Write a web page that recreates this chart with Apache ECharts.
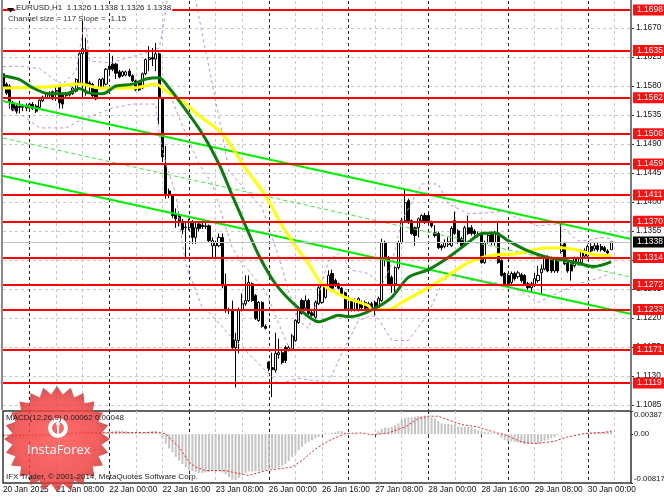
<!DOCTYPE html>
<html><head><meta charset="utf-8">
<style>html,body{margin:0;padding:0;background:#fff}#c{width:664px;height:498px}</style>
<script src="https://cdn.jsdelivr.net/npm/echarts@6/dist/echarts.min.js"></script>
</head><body><div id="c"></div>
<script>
const barSlots = 190;
const timeLabels = ['20 Jan 2015','21 Jan 08:00','22 Jan 00:00','22 Jan 16:00','23 Jan 08:00','26 Jan 00:00','26 Jan 16:00','27 Jan 08:00','28 Jan 00:00','28 Jan 16:00','29 Jan 08:00','30 Jan 00:00'];
const levels = [1.1698,1.1635,1.1562,1.1506,1.1459,1.1411,1.1370,1.1314,1.1272,1.1233,1.1171,1.1119];
const currentPrice = 1.1338;
const priceTicks = [1.1085,1.1130,1.1175,1.1220,1.1265,1.1310,1.1355,1.1400,1.1445,1.1490,1.1535,1.1580,1.1625,1.1670];
const macdTicks = [-0.00817,0,0.00387];
// open, close, low, high
const candles = [
[1.1599,1.1577,1.1572,1.1602],[1.1583,1.1569,1.1566,1.1586],[1.1580,1.1555,1.1545,1.1583],[1.1554,1.1543,1.1541,1.1557],
[1.1549,1.1541,1.1537,1.1552],[1.1548,1.1547,1.1538,1.1557],[1.1547,1.1548,1.1541,1.1552],[1.1546,1.1549,1.1541,1.1553],
[1.1546,1.1552,1.1545,1.1554],[1.1552,1.1545,1.1543,1.1555],[1.1549,1.1541,1.1538,1.1552],[1.1547,1.1558,1.1545,1.1559],
[1.1557,1.1563,1.1555,1.1565],[1.1562,1.1568,1.1560,1.1570],[1.1566,1.1567,1.1562,1.1572],[1.1571,1.1560,1.1558,1.1573],
[1.1572,1.1573,1.1557,1.1580],[1.1580,1.1554,1.1545,1.1582],[1.1568,1.1552,1.1545,1.1570],[1.1565,1.1568,1.1563,1.1571],
[1.1566,1.1569,1.1564,1.1572],[1.1568,1.1577,1.1566,1.1579],[1.1572,1.1590,1.1570,1.1592],[1.1585,1.1630,1.1583,1.1634],
[1.1630,1.1638,1.1562,1.1681],[1.1636,1.1583,1.1565,1.1655],[1.1585,1.1580,1.1568,1.1588],[1.1583,1.1565,1.1563,1.1585],
[1.1576,1.1560,1.1558,1.1578],[1.1576,1.1590,1.1575,1.1592],[1.1577,1.1591,1.1575,1.1593],[1.1583,1.1606,1.1581,1.1608],
[1.1611,1.1606,1.1596,1.1631],[1.1614,1.1606,1.1603,1.1627],[1.1614,1.1600,1.1591,1.1616],[1.1602,1.1594,1.1592,1.1605],
[1.1596,1.1602,1.1594,1.1604],[1.1597,1.1602,1.1595,1.1604],[1.1603,1.1596,1.1594,1.1607],[1.1596,1.1588,1.1586,1.1598],
[1.1588,1.1574,1.1572,1.1590],[1.1585,1.1574,1.1572,1.1587],[1.1577,1.1599,1.1575,1.1601],[1.1599,1.1621,1.1597,1.1623],
[1.1621,1.1624,1.1603,1.1642],[1.1624,1.1622,1.1611,1.1639],[1.1622,1.1630,1.1603,1.1647],[1.1630,1.1562,1.1521,1.1632],
[1.1560,1.1470,1.1462,1.1562],[1.1459,1.1413,1.1405,1.1487],[1.1417,1.1410,1.1406,1.1421],[1.1410,1.1379,1.1375,1.1412],
[1.1382,1.1374,1.1360,1.1390],[1.1379,1.1368,1.1362,1.1386],[1.1368,1.1357,1.1350,1.1374],[1.1360,1.1361,1.1314,1.1368],
[1.1360,1.1368,1.1356,1.1374],[1.1368,1.1345,1.1335,1.1372],[1.1345,1.1360,1.1335,1.1368],[1.1366,1.1359,1.1354,1.1370],
[1.1364,1.1362,1.1358,1.1368],[1.1362,1.1363,1.1358,1.1367],[1.1363,1.1340,1.1338,1.1365],[1.1332,1.1340,1.1314,1.1345],
[1.1332,1.1337,1.1314,1.1340],[1.1332,1.1345,1.1330,1.1351],[1.1345,1.1270,1.1266,1.1351],[1.1270,1.1232,1.1228,1.1289],
[1.1232,1.1231,1.1226,1.1236],[1.1232,1.1174,1.1172,1.1247],[1.1174,1.1185,1.1112,1.1197],[1.1185,1.1233,1.1165,1.1236],
[1.1233,1.1242,1.1230,1.1258],[1.1242,1.1247,1.1239,1.1286],[1.1247,1.1275,1.1245,1.1286],[1.1273,1.1247,1.1245,1.1275],
[1.1255,1.1219,1.1217,1.1257],[1.1216,1.1244,1.1214,1.1246],[1.1244,1.1207,1.1205,1.1246],[1.1207,1.1204,1.1202,1.1210],
[1.1151,1.1142,1.1137,1.1153],[1.1143,1.1140,1.1097,1.1166],[1.1139,1.1165,1.1135,1.1197],[1.1163,1.1166,1.1157,1.1188],
[1.1166,1.1151,1.1148,1.1170],[1.1174,1.1154,1.1150,1.1177],[1.1171,1.1174,1.1168,1.1177],[1.1172,1.1192,1.1170,1.1195],
[1.1185,1.1216,1.1183,1.1218],[1.1213,1.1235,1.1211,1.1238],[1.1247,1.1227,1.1225,1.1250],[1.1235,1.1247,1.1232,1.1255],
[1.1247,1.1227,1.1225,1.1250],[1.1228,1.1224,1.1222,1.1233],[1.1221,1.1244,1.1219,1.1247],[1.1242,1.1267,1.1240,1.1270],
[1.1244,1.1270,1.1242,1.1272],[1.1252,1.1270,1.1250,1.1273],[1.1267,1.1286,1.1265,1.1294],[1.1289,1.1266,1.1260,1.1295],
[1.1278,1.1270,1.1268,1.1281],[1.1273,1.1266,1.1264,1.1275],[1.1266,1.1258,1.1256,1.1268],[1.1259,1.1235,1.1233,1.1261],
[1.1233,1.1234,1.1228,1.1247],[1.1247,1.1232,1.1230,1.1250],[1.1232,1.1247,1.1230,1.1250],[1.1232,1.1250,1.1230,1.1252],
[1.1244,1.1236,1.1232,1.1247],[1.1244,1.1235,1.1231,1.1247],[1.1242,1.1235,1.1232,1.1245],[1.1242,1.1235,1.1232,1.1245],
[1.1244,1.1236,1.1224,1.1247],[1.1236,1.1250,1.1233,1.1253],[1.1247,1.1337,1.1245,1.1343],[1.1337,1.1309,1.1300,1.1340],
[1.1314,1.1273,1.1271,1.1316],[1.1283,1.1270,1.1259,1.1286],[1.1273,1.1298,1.1260,1.1300],[1.1298,1.1337,1.1295,1.1340],
[1.1337,1.1371,1.1335,1.1375],[1.1371,1.1399,1.1369,1.1421],[1.1402,1.1368,1.1366,1.1405],[1.1371,1.1351,1.1349,1.1373],
[1.1360,1.1348,1.1332,1.1362],[1.1360,1.1374,1.1345,1.1376],[1.1371,1.1379,1.1369,1.1381],[1.1379,1.1368,1.1366,1.1383],
[1.1379,1.1368,1.1365,1.1383],[1.1368,1.1363,1.1360,1.1371],[1.1352,1.1348,1.1345,1.1364],[1.1351,1.1329,1.1327,1.1354],
[1.1332,1.1329,1.1325,1.1335],[1.1331,1.1337,1.1328,1.1342],[1.1334,1.1338,1.1330,1.1345],[1.1332,1.1359,1.1330,1.1362],
[1.1371,1.1351,1.1349,1.1385],[1.1355,1.1337,1.1335,1.1358],[1.1343,1.1332,1.1330,1.1346],[1.1335,1.1360,1.1332,1.1363],
[1.1360,1.1351,1.1349,1.1379],[1.1360,1.1351,1.1348,1.1364],[1.1355,1.1351,1.1348,1.1358],[1.1351,1.1348,1.1345,1.1354],
[1.1351,1.1306,1.1304,1.1354],[1.1306,1.1337,1.1304,1.1340],[1.1337,1.1348,1.1335,1.1351],[1.1351,1.1337,1.1333,1.1354],
[1.1337,1.1352,1.1332,1.1355],[1.1352,1.1306,1.1304,1.1368],[1.1309,1.1286,1.1284,1.1311],[1.1289,1.1273,1.1269,1.1291],
[1.1286,1.1273,1.1269,1.1289],[1.1275,1.1289,1.1270,1.1292],[1.1289,1.1281,1.1278,1.1292],[1.1284,1.1290,1.1281,1.1293],
[1.1287,1.1278,1.1275,1.1290],[1.1286,1.1273,1.1270,1.1288],[1.1273,1.1267,1.1264,1.1276],[1.1267,1.1273,1.1259,1.1276],
[1.1270,1.1281,1.1268,1.1290],[1.1278,1.1286,1.1275,1.1301],[1.1290,1.1296,1.1258,1.1303],[1.1296,1.1314,1.1294,1.1316],
[1.1314,1.1293,1.1291,1.1317],[1.1312,1.1293,1.1290,1.1315],[1.1293,1.1312,1.1290,1.1315],[1.1312,1.1293,1.1290,1.1315],
[1.1323,1.1333,1.1320,1.1366],[1.1335,1.1304,1.1302,1.1338],[1.1306,1.1293,1.1290,1.1309],[1.1306,1.1293,1.1278,1.1308],
[1.1301,1.1312,1.1298,1.1315],[1.1306,1.1312,1.1303,1.1315],[1.1306,1.1324,1.1304,1.1327],[1.1316,1.1324,1.1314,1.1328],
[1.1316,1.1331,1.1313,1.1334],[1.1331,1.1324,1.1321,1.1336],[1.1327,1.1332,1.1324,1.1337],[1.1332,1.1326,1.1323,1.1337],
[1.1331,1.1326,1.1323,1.1335],[1.1329,1.1324,1.1322,1.1332],[1.1324,1.1321,1.1319,1.1327],[1.1326,1.1338,1.1326,1.1338]
];
const maSlow = [[0,1.1577],[14,1.1579],[23,1.1583],[29,1.1577],[39,1.1577],[46,1.1583],[49,1.1572],[54,1.1557],[59,1.1534],[66,1.1506],[73,1.1452],[79,1.1410],[84,1.1363],[88,1.1332],[92,1.1304],[96,1.1273],[103,1.1252],[110,1.1239],[111,1.1233],[116,1.1233],[120,1.1244],[128,1.1267],[134,1.1286],[140,1.1306],[147,1.1317],[155,1.1320],[162,1.1328],[168,1.1329],[174,1.1324],[178,1.1318],[183,1.1317]];
const maFast = [[0,1.1596],[5,1.1590],[9,1.1577],[14,1.1568],[19,1.1568],[23,1.1576],[26,1.1569],[30,1.1568],[34,1.1580],[39,1.1583],[43,1.1591],[47,1.1593],[50,1.1577],[53,1.1557],[60,1.1506],[65,1.1459],[69,1.1410],[73,1.1363],[77,1.1317],[82,1.1273],[89,1.1235],[95,1.1214],[98,1.1219],[101,1.1224],[104,1.1222],[107,1.1224],[112,1.1235],[117,1.1252],[122,1.1283],[128,1.1295],[134,1.1314],[140,1.1337],[144,1.1351],[148,1.1352],[152,1.1340],[158,1.1324],[164,1.1314],[170,1.1309],[176,1.1301],[178,1.1300],[183,1.1307]];
const bandUpper = [[0,1.1610],[5,1.1611],[11,1.1607],[16,1.1588],[18,1.1583],[22,1.1603],[24,1.1665],[25,1.1673],[26,1.1619],[32,1.1616],[42,1.1630],[47,1.1639],[48,1.1665],[49,1.1700],[51,1.1759],[56,1.1759],[58,1.1712],[64,1.1557],[66,1.1506],[68,1.1448],[74,1.1413],[78,1.1391],[83,1.1314],[86,1.1262],[89,1.1216],[92,1.1204],[98,1.1309],[101,1.1320],[105,1.1294],[110,1.1289],[114,1.1270],[117,1.1304],[120,1.1371],[126,1.1428],[131,1.1428],[134,1.1397],[140,1.1382],[146,1.1383],[151,1.1386],[155,1.1374],[161,1.1363],[167,1.1366],[173,1.1340],[176,1.1340],[180,1.1345],[183,1.1343]];
const bandMiddle = [[51,1.1557],[55,1.1506],[59,1.1459],[63,1.1428],[69,1.1329],[72,1.1304],[74,1.1293],[79,1.1262],[83,1.1211],[86,1.1174],[89,1.1170]];
const bandLower = [[0,1.1557],[4,1.1541],[11,1.1515],[19,1.1515],[23,1.1526],[33,1.1546],[39,1.1552],[46,1.1552],[47,1.1506],[49,1.1459],[52,1.1413],[54,1.1335],[55,1.1304],[56,1.1289],[60,1.1236],[63,1.1224],[67,1.1200],[77,1.1149],[83,1.1118],[89,1.1126],[98,1.1120],[102,1.1165],[107,1.1216],[111,1.1224],[113,1.1219],[117,1.1185],[122,1.1185],[128,1.1227],[132,1.1273],[135,1.1289],[141,1.1278],[148,1.1275],[152,1.1270],[157,1.1258],[161,1.1244],[167,1.1259],[173,1.1273],[180,1.1283],[183,1.1290]];
const channelUpper = [[0,1.15567],[189,1.13425]];
const channelMiddle = [[0,1.14993],[189,1.12835]];
const channelLower = [[0,1.14403],[189,1.12261]];
const macdHist = [
0,-.0002,-.0003,-.0005,-.0006,-.0007,-.0008,-.0008,-.0008,-.0007,-.0007,-.0006,-.0006,-.0005,-.0004,-.0004,-.0003,-.0002,-.0002,-.0002,-.0001,-.0001,0,.0002,.0004,.0005,.0005,.0004,.0003,.0003,.0003,.0004,.0005,.0005,.0006,.0006,.0006,.0005,.0004,.0003,.0003,.0002,.0002,.0003,.0004,.0005,.0005,.0002,
-.0008,-.0016,-.0024,-.0030,-.0038,-.0044,-.0050,-.0055,-.0060,-.0062,-.0064,-.0065,-.0065,-.0064,-.0063,-.0062,-.0062,-.0062,-.0064,-.0067,-.0072,-.0076,-.0077,-.0073,-.0068,-.0065,-.0062,-.0062,-.0062,-.0062,-.0061,-.0060,-.0059,-.0058,-.0057,-.0055,-.0053,-.0050,-.0045,-.0038,-.0033,-.0027,-.0021,-.0016,-.0013,-.0010,-.0007,-.0005,-.0002,.0002,
.0001,.0002,.0003,.0005,.0005,.0003,.0001,0,-.0001,0,0,0,0,0,0,.0005,.0009,.0011,.0011,.0012,.0015,.0018,.0024,.0027,.0028,.0028,.0029,.0030,.0030,.0031,.0030,.0028,.0026,.0022,.0018,.0017,.0017,.0016,.0016,.0013,.0012,.0012,.0012,.0011,.0009,.0006,.0005,.0004,.0003,.0002,.0001,-.0002,-.0006,-.0010,-.0012,-.0012,-.0013,-.0014,-.0015,-.0017,-.0017,-.0016,-.0016,-.0016,-.0014,-.0011,-.0009,-.0007,-.0005,-.0002,0,.0001,0,0,-.0001,0,0,.0001,.0002,.0003,.0003,.0003,.0003,.0004,.0004,.0006
];
const macdSignal = [[0,-.0002],[7,-.0002],[23,.0002],[47,.0003],[49,.00005],[53,-.0022],[56,-.0047],[58,-.0055],[61,-.0061],[67,-.0061],[71,-.0066],[74,-.0069],[79,-.0061],[87,-.0055],[90,-.0044],[94,-.0025],[98,-.0011],[103,.0001],[108,.0002],[111,-.0001],[116,.0002],[121,.0012],[125,.0026],[128,.0030],[131,.0030],[138,.0016],[143,.0012],[148,.0003],[151,-.0001],[156,-.0013],[160,-.0016],[163,-.0014],[166,-.0012],[169,-.0006],[175,.0001],[181,.0003],[183,.00048]];

const font = '"Liberation Sans", sans-serif';
const categories = Array.from({length: barSlots}, (_, i) => 'b' + i);
const isLight = i => i % 8 === 0 && i % 24 !== 8 && i !== 0;
const isDark = i => i % 24 === 8;
const xBase = (gridIndex, test, color, extra) => Object.assign({
  type: 'category', gridIndex, data: categories, boundaryGap: false, position: 'bottom',
  axisLine: {show: false}, axisTick: {show: false}, axisLabel: {show: false},
  splitLine: {show: true, interval: i => test(i), lineStyle: {color, type: [3, 3], width: 1}}
}, extra || {});
const lineS = (name, data, color, width, type, smooth) => ({
  name, type: 'line', data, xAxisIndex: 0, yAxisIndex: 0, showSymbol: false, symbol: 'none', silent: true, smooth: smooth || false,
  lineStyle: {color, width, type: type || 'solid'}, z: 3, animation: false
});
const tag = (value, bg, lineColor, lineWidth) => ({
  yAxis: value,
  lineStyle: {color: lineColor, width: lineWidth, type: 'solid'},
  label: {show: true, position: 'end', distance: 2, formatter: value.toFixed(4), color: '#fff', backgroundColor: bg,
    padding: [1, 4, 1, 4], fontFamily: font, fontSize: 8.5, fontWeight: 'normal', lineHeight: 9}
});

const chart = echarts.init(document.getElementById('c'), null, {renderer: 'canvas'});
// decorative star badge
const starPts = [];
for (let k = 0; k < 48; k++) {
  const r = k % 2 ? 45 : 53, a = k / 48 * Math.PI * 2 - Math.PI / 2;
  starPts.push([r * Math.cos(a), r * Math.sin(a)]);
}
chart.setOption({
  animation: false,
  backgroundColor: '#fff',
  textStyle: {fontFamily: font},
  grid: [
    {left: 3, right: 33, top: 1, height: 409, show: true, backgroundColor: '#fff', borderWidth: 0, outerBoundsMode: 'none', containLabel: false},
    {left: 3, right: 33, top: 411, height: 72, show: true, backgroundColor: '#fff', borderColor: '#333', borderWidth: 1.5, outerBoundsMode: 'none', containLabel: false}
  ],
  xAxis: [
    xBase(0, isLight, '#c9c9c9'),
    xBase(0, isDark, '#222'),
    xBase(1, isLight, '#c9c9c9', {
      axisTick: {show: true, length: 3, interval: i => i % 16 === 0, lineStyle: {color: '#333'}},
      axisLabel: {show: true, interval: i => i % 16 === 0, align: 'left', margin: 3, fontSize: 8.3, fontFamily: font, color: '#111',
        hideOverlap: false, showMinLabel: true, showMaxLabel: true,
        formatter: (v, i) => timeLabels[i / 16] || ''}
    }),
    xBase(1, isDark, '#222')
  ],
  yAxis: [
    {type: 'value', gridIndex: 0, position: 'right', min: 1.10771, max: 1.17120, scale: true,
      axisLine: {show: false},
      axisTick: {show: true, length: 3, customValues: priceTicks, lineStyle: {color: '#333'}},
      axisLabel: {show: true, customValues: priceTicks, margin: 5, fontSize: 8.3, fontFamily: font, color: '#111', formatter: v => v.toFixed(4), showMinLabel: true, showMaxLabel: true},
      splitLine: {show: true, lineStyle: {color: '#c9c9c9', type: [3, 3], width: 1}}},
    {type: 'value', gridIndex: 1, position: 'right', min: -0.00817, max: 0.00387, scale: true,
      axisLine: {show: false},
      axisTick: {show: true, length: 2, customValues: macdTicks, lineStyle: {color: '#333'}},
      axisLabel: {show: true, customValues: macdTicks, margin: 3, fontSize: 7.8, fontFamily: font, color: '#111',
        verticalAlignMaxLabel: 'top', verticalAlignMinLabel: 'bottom', showMinLabel: true, showMaxLabel: true,
        formatter: v => v === 0 ? '0.00' : v.toFixed(5)},
      splitLine: {show: false}}
  ],
  series: [
    {name: 'EURUSD', type: 'candlestick', data: candles, xAxisIndex: 0, yAxisIndex: 0, barWidth: 2.6, large: false, progressive: 0, silent: true, z: 2,
      itemStyle: {color: '#fff', color0: '#000', borderColor: '#000', borderColor0: '#000', borderWidth: 1}},
    lineS('Channel upper', channelUpper, '#00f000', 2),
    lineS('Channel middle', channelMiddle, '#33ee33', 1, [4, 3]),
    lineS('Channel lower', channelLower, '#00f000', 2),
    lineS('Band upper', bandUpper, '#c78ae6', 1, [3, 3]),
    lineS('Band middle', bandMiddle, '#c78ae6', 1, [3, 3]),
    lineS('Band lower', bandLower, '#c78ae6', 1, [3, 3]),
    lineS('Slow MA', maSlow, '#ffff00', 3, 'solid', 0.3),
    lineS('Fast MA', maFast, '#0b7d0b', 3, 'solid', 0.3),
    {name: 'Levels', type: 'line', data: [], xAxisIndex: 0, yAxisIndex: 0, silent: true, z: 5,
      markLine: {silent: true, symbol: 'none', animation: false, precision: 5, z: 5,
        data: [tag(currentPrice, '#000', '#c4c4c4', 1)].concat(levels.map(v => tag(v, '#ff1010', '#ff0000', 2)))}},
    {name: 'MACD', type: 'bar', data: macdHist, xAxisIndex: 2, yAxisIndex: 1, barWidth: 2, silent: true, itemStyle: {color: '#c4c4c4'}, z: 2},
    {name: 'Signal', type: 'line', data: macdSignal, xAxisIndex: 2, yAxisIndex: 1, showSymbol: false, symbol: 'none', silent: true, z: 3,
      lineStyle: {color: '#ff2020', width: 1, type: [2, 2]}}
  ],
  graphic: [
    {type: 'rect', z: 60, shape: {x: 1, y: 0, width: 2, height: 410}, style: {fill: '#8c8c8c'}},
    {type: 'rect', z: 60, shape: {x: 630, y: 0, width: 2, height: 410}, style: {fill: '#7a7a7a'}},
    {type: 'polygon', x: 7, y: 8, z: 100, shape: {points: [[0,0],[7,0],[3.5,4.5]]}, style: {fill: '#000'}},
    {type: 'text', x: 15, y: 4, z: 100, style: {text: 'EURUSD,H1  1.1326 1.1338 1.1326 1.1338', font: '8px ' + font, fill: '#222', backgroundColor: '#fff', padding: [0,1]}},
    {type: 'text', x: 8, y: 15, z: 100, style: {text: 'Channel size = 117 Slope = -1.15', font: '8px ' + font, fill: '#333'}},
    {type: 'text', x: 6, y: 414, z: 99, style: {text: 'MACD(12,26,9) 0.00062 0.00048', font: '8px ' + font, fill: '#222'}},
    {type: 'text', x: 6, y: 473, z: 99, style: {text: 'IFX Trader, © 2001-2014, MetaQuotes Software Corp.', font: '8px ' + font, fill: '#222'}},
    {type: 'polygon', x: 57, y: 439, z: 95, shape: {points: starPts},
      style: {opacity: 0.84, fill: {type: 'radial', x: 0.5, y: 0.5, r: 0.55,
        colorStops: [{offset: 0, color: '#ff5050'}, {offset: 0.7, color: '#f04040'}, {offset: 1, color: '#b92c2c'}]}}},
    {type: 'circle', z: 96, shape: {cx: 58, cy: 428, r: 8}, style: {fill: 'none', stroke: '#fff', lineWidth: 4}},
    {type: 'circle', z: 96, shape: {cx: 58, cy: 424, r: 2}, style: {fill: '#fff'}},
    {type: 'rect', z: 96, shape: {x: 57, y: 426, width: 2, height: 12}, style: {fill: '#fff'}},
    {type: 'text', x: 27, y: 444, z: 97, style: {text: 'InstaForex', font: '13px "Open Sans", sans-serif', fill: '#fff'}}
  ]
});
</script></body></html>
